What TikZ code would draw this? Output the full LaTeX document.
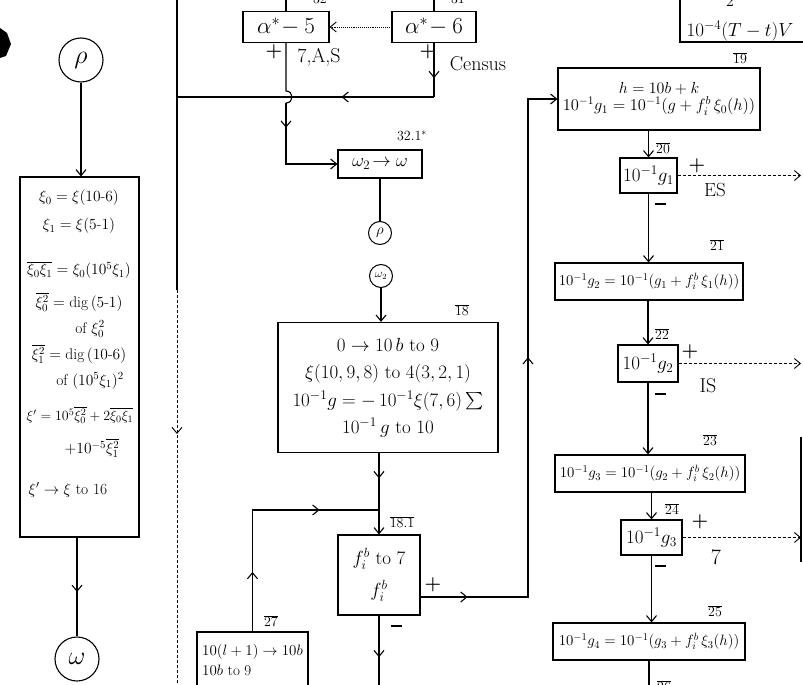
\RequirePackage{fix-cm}
\documentclass[tikz,border=0pt]{standalone}
\usepackage{amsmath}
\usepackage{tikz}
\usetikzlibrary{arrows.meta,positioning,decorations.markings}

\begin{document}
\begin{tikzpicture}[x=1pt,y=-1pt,
  >={Straight Barb[length=6pt,width=10pt]},
  flow/.style={line width=1.1pt},
  faint/.style={line width=0.9pt,densely dashed},
  box/.style={draw,line width=1.2pt,inner sep=2pt,align=center},
  conn/.style={draw,circle,line width=1.1pt,inner sep=0pt,minimum size=44pt,font=\fontsize{26}{26}\selectfont},
  sconn/.style={draw,circle,line width=1pt,inner sep=0pt,minimum size=23pt,font=\fontsize{15}{15}\selectfont},
  txt/.style={inner sep=0pt,font=\fontsize{15.5}{17}\selectfont},
  lbl/.style={inner sep=0pt,font=\fontsize{14}{14}\selectfont},
  sign/.style={inner sep=0pt,font=\fontsize{19}{19}\selectfont\bfseries},
  midarrow/.style={postaction={decorate},decoration={markings,mark=at position #1 with {\arrow{>}}}},
  midarrows/.style 2 args={postaction={decorate},decoration={markings,mark=at position #1 with {\arrow{>}},mark=at position #2 with {\arrow{>}}}}
]
\useasboundingbox (0,0) rectangle (803,685);
\fill[white] (0,0) rectangle (803,685);
\fill (0,28) -- (7,33) -- (11,44) -- (6,56) -- (0,58) -- cycle;

% left column
\node[conn] (rho1) at (81,60) {$\rho$};
\node[box,minimum width=119pt,minimum height=360pt] (xibox) at (79.5,357) {};
\node[txt] (xi0) at (79,198) {$\xi_0=\xi(10\text{-}6)$};
\node[txt] (xi1) at (79,226) {$\xi_1=\xi(5\text{-}1)$};
\node[txt] (xi01) at (79,270) {$\overline{\xi_0\xi_1}=\xi_0(10^5\xi_1)$};
\node[txt] (xi00) at (79,302) {$\overline{\xi_0^2}=\text{dig}\,(5\text{-}1)$};
\node[txt] (xi00b) at (90,329) {of $\xi_0^2$};
\node[txt] (xi11) at (79,354) {$\overline{\xi_1^2}=\text{dig}\,(10\text{-}6)$};
\node[txt] (xi11b) at (90,381) {of $(10^5\xi_1)^2$};
\node[txt,font=\fontsize{14}{16}\selectfont] (xip) at (80,415) {$\xi'=10^5\overline{\xi_0^2}+2\overline{\xi_0\xi_1}$};
\node[txt] (xipb) at (92,448) {$+10^{-5}\overline{\xi_1^2}$};
\node[txt] (xito) at (68,490) {$\xi'\to\xi$ to 16};
\node[conn] (omega1) at (77,659) {$\omega$};
\draw[flow,->] (rho1.south) -- (rho1.south |- xibox.north);
\draw[flow,midarrow=0.55] (omega1.north |- xibox.south) -- (omega1.north);

% main line on the left of the middle column
\coordinate (mlTop) at (177,-5);
\coordinate (mlJoin) at (177,97);
\coordinate (mlMid) at (177,290);
\coordinate (mlBot) at (177,690);
\draw[flow] (mlTop) -- (mlJoin) -- (mlMid);
\draw[faint,midarrow=0.36] (mlMid) -- (mlBot);

% alpha tests
\node[box,minimum width=86pt,minimum height=31pt,font=\fontsize{23}{23}\selectfont] (a5) at (286,27) {$\alpha^*\!-5$};
\node[box,minimum width=84pt,minimum height=31pt,font=\fontsize{23}{23}\selectfont] (a6) at (434,27) {$\alpha^*\!-6$};
\node[lbl] (n32) at (320,-2) {$\overline{32}$};
\node[lbl] (n31) at (458,-2) {$\overline{31}$};
\draw[flow] (a5.north |- mlTop) -- (a5.north);
\draw[flow] (a6.north |- mlTop) -- (a6.north);
\draw[faint,densely dotted,->] (a6.west) -- (a5.east);
\node[sign] (p5) at (274,52) {+};
\node[txt,font=\fontsize{20}{20}\selectfont] (as5) at (319,57) {7,A,S};
\node[sign] (p6) at (428,52) {+};
\node[txt,font=\fontsize{20}{20}\selectfont] (census) at (478,64) {Census};

\coordinate (hopC) at (a5.south |- mlJoin);
\coordinate (a6turn) at (a6.south |- mlJoin);
\draw[flow,midarrow=0.65] (a6.south) -- (a6turn);
\draw[flow,midarrow=0.36] (a6turn) -- (mlJoin);
\draw[flow] (a5.south) -- ([yshift=6pt]hopC)
  .. controls ([xshift=8pt,yshift=6pt]hopC) and ([xshift=8pt,yshift=-6pt]hopC) .. ([yshift=-6pt]hopC) coordinate (hopD);

\node[box,minimum width=84pt,minimum height=28pt,font=\fontsize{18.5}{18.5}\selectfont] (wbox) at (380,164) {$\omega_2\!\to\omega$};
\node[lbl] (n321) at (412,136) {$32.1^{*}$};
\draw[flow,midarrow=0.22,->] (hopD) |- (wbox.west);
\node[sconn] (rho2) at (380,233) {$\rho$};
\draw[flow] (wbox) -- (rho2);

% block 18
\node[sconn,font=\fontsize{12}{12}\selectfont] (omega2) at (381,276) {$\omega_2$};
\node[box,minimum width=220pt,minimum height=130pt,font=\fontsize{19}{27.5}\selectfont] (box18) at (388,387.5)
  {$0\to10\,b$ to 9\\ $\xi(10,9,8)$ to $4(3,2,1)$\\ $10^{-1}g=-\,10^{-1}\xi(7,6)\sum$\\ $10^{-1}\,g$ to 10};
\node[lbl] (n18) at (462,310) {$\overline{18}$};
\draw[flow,->] (omega2) -- (omega2 |- box18.north);

% block 18.1
\node[box,minimum width=82pt,minimum height=80pt,font=\fontsize{19}{32}\selectfont] (box181) at (379,575) {$f_i^b$ to 7\\ $f_i^b$};
\node[lbl] (n181) at (402,522) {$\overline{18.1}$};
\draw[flow,midarrow=0.31,->] (box181.north |- box18.south) -- (box181.north);
\coordinate (j181) at (box181.north |- 0,510);
\node[box,minimum width=111pt,minimum height=56pt,align=left,font=\fontsize{15}{20}\selectfont] (box27) at (252.5,660) {$10(l+1)\to10b$\\ $10b$ to 9};
\node[lbl] (n27) at (271,621) {$\overline{27}$};
\draw[flow,midarrows={0.24}{0.76}] (box27.north) |- (j181);
\node[sign] (p181) at (433,585) {+};
\node[sign] (m181) at (396,626) {\rule{11pt}{2.2pt}};
\draw[flow,midarrow=0.56] (box181.south) -- (box181.south |- mlBot);
\coordinate (rvBot) at (528,597);

% right column
\node[box,minimum width=160pt,minimum height=62pt] (topbox) at (760,11) {};
\node[txt,font=\fontsize{19}{19}\selectfont] (tT) at (740,31) {$10^{-4}(T-t)V$};
\node[txt,font=\fontsize{16}{16}\selectfont] (t2) at (730,1) {$2$};
\node[lbl] (n19) at (740,58) {$\overline{19}$};
\node[box,minimum width=202pt,minimum height=62pt] (hbox) at (659,99)
  {\fontsize{16}{18}\selectfont $h=10b+k$\\[1pt] \fontsize{16.5}{18}\selectfont $10^{-1}g_1=10^{-1}(g+f_i^b\,\xi_0(h))$};
\draw[flow,midarrows={0.074}{0.547},->] ([yshift=-22pt]box181.east) -- (rvBot) |- (hbox.west);

\coordinate (redge) at (801,0);
\node[box,minimum width=57pt,minimum height=35pt,font=\fontsize{19}{19}\selectfont] (box20) at (648.5,175.5) {$10^{-1}g_1$};
\node[lbl] (n20) at (663,148) {$\overline{20}$};
\draw[flow,->] (box20.north |- hbox.south) -- (box20.north);
\node[sign] (p20) at (697,166) {+};
\node[txt,font=\fontsize{19}{19}\selectfont] (es) at (715,190) {ES};
\node[sign] (m20) at (660,204) {\rule{11pt}{2.2pt}};
\draw[faint,->] (box20.east) -- (box20.east -| redge);

\node[box,minimum width=188pt,minimum height=37pt,font=\fontsize{15}{15}\selectfont] (box21) at (649,281.5) {$10^{-1}g_2=10^{-1}(g_1+f_i^b\,\xi_1(h))$};
\node[lbl] (n21) at (717,245) {$\overline{21}$};
\draw[flow,->] (box20.south) -- (box20.south |- box21.north);

\node[box,minimum width=60pt,minimum height=37pt,font=\fontsize{19}{19}\selectfont] (box22) at (648,363.5) {$10^{-1}g_2$};
\node[lbl] (n22) at (662,334) {$\overline{22}$};
\draw[flow,->] (box22.north |- box21.south) -- (box22.north);
\node[sign] (p22) at (690,352) {+};
\node[txt,font=\fontsize{20}{20}\selectfont] (is) at (708,386) {IS};
\node[sign] (m22) at (660,394) {\rule{11pt}{2.2pt}};
\draw[faint,->] (box22.east) -- (box22.east -| redge);

\node[box,minimum width=190pt,minimum height=37pt,font=\fontsize{15}{15}\selectfont] (box23) at (650,473.5) {$10^{-1}g_3=10^{-1}(g_2+f_i^b\,\xi_2(h))$};
\node[lbl] (n23) at (710,440) {$\overline{23}$};
\draw[flow,->] (box22.south) -- (box22.south |- box23.north);

\node[box,minimum width=61pt,minimum height=35pt,font=\fontsize{19}{19}\selectfont] (box24) at (651.5,537.5) {$10^{-1}g_3$};
\node[lbl] (n24) at (672,509) {$\overline{24}$};
\draw[flow,->] (box24.north |- box23.south) -- (box24.north);
\node[sign] (p24) at (700,522) {+};
\node[txt,font=\fontsize{22}{22}\selectfont] (seven) at (716,557) {7};
\node[sign] (m24) at (660,566) {\rule{11pt}{2.2pt}};
\draw[faint,->] (box24.east) -- (box24.east -| redge);
\coordinate (reTop) at (801,437);
\coordinate (reBot) at (801,562);
\draw[flow] (reTop) -- (reBot);

\node[box,minimum width=192pt,minimum height=37pt,font=\fontsize{15}{15}\selectfont] (box25) at (649,641.5) {$10^{-1}g_4=10^{-1}(g_3+f_i^b\,\xi_3(h))$};
\node[lbl] (n25) at (715,611) {$\overline{25}$};
\draw[flow,->] (box24.south) -- (box24.south |- box25.north);
\draw[flow] (box25.south) -- (box25.south |- mlBot);
\node[lbl] (n26) at (664,686) {$\overline{26}$};
\end{tikzpicture}
\end{document}
